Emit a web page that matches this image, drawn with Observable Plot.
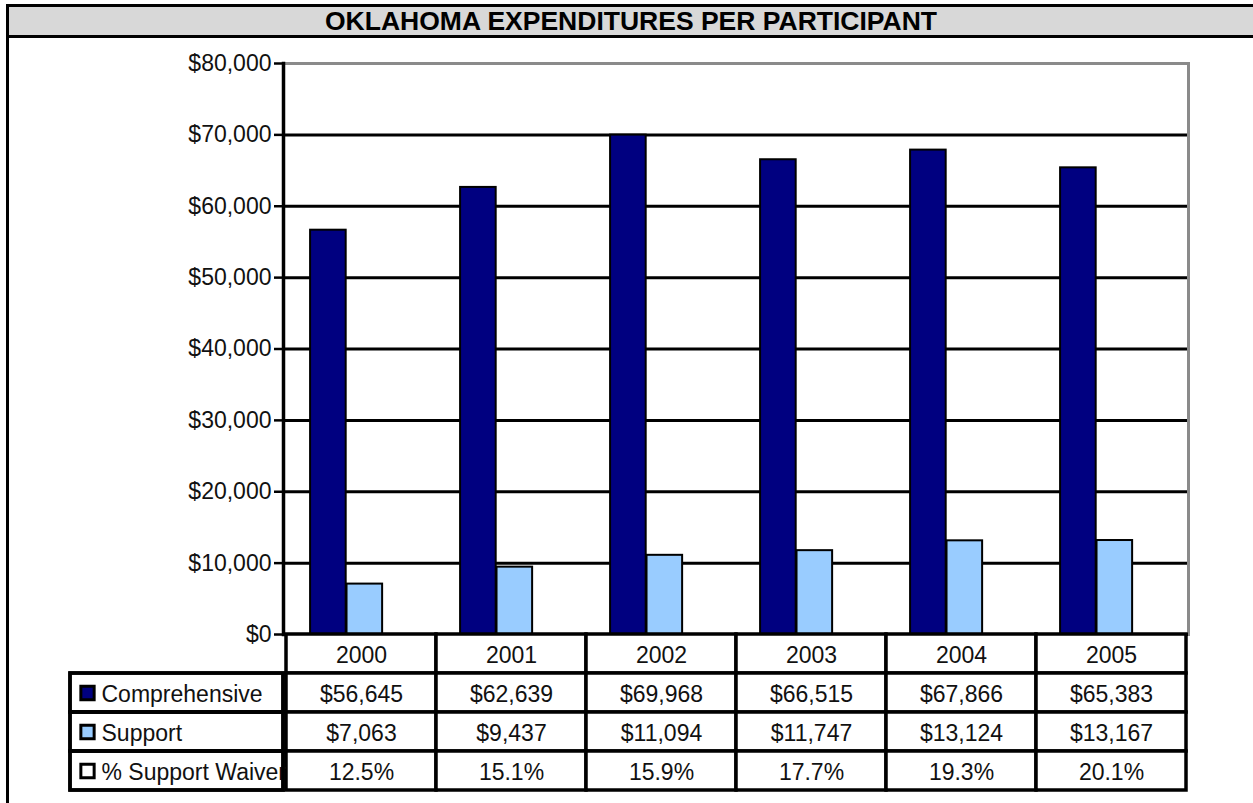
<!DOCTYPE html>
<html>
<head>
<meta charset="utf-8">
<script src="https://cdn.jsdelivr.net/npm/d3@7"></script>
<script src="https://cdn.jsdelivr.net/npm/@observablehq/plot@0.6"></script>
<style>
  html, body { margin: 0; padding: 0; background: #fff; overflow: hidden; width: 1253px; height: 803px; }
  body { font-family: "Liberation Sans", Arial, sans-serif; position: relative; }
  #frame { position: absolute; left: 6px; top: 4px; width: 1250px; height: 830px; border: 3px solid #000; box-sizing: border-box; }
  #title { position: absolute; left: 9px; top: 7px; width: 1244px; height: 28px; background: #d8d8d8; border-bottom: 3px solid #000;
           font-weight: bold; font-size: 26.5px; text-align: center; line-height: 29px; color: #000; }
  #chart { position: absolute; left: 0; top: 38px; }
  #table { position: absolute; left: 0; top: 632px; }
</style>
</head>
<body>
<div id="frame"></div>
<div id="title">OKLAHOMA EXPENDITURES PER PARTICIPANT</div>
<div id="chart"></div>
<div id="table"></div>
<script>
// ---- data ----
const years = ["2000", "2001", "2002", "2003", "2004", "2005"];
const comprehensive = [56645, 62639, 69968, 66515, 67866, 65383];
const support = [7063, 9437, 11094, 11747, 13124, 13167];
const supportWaiverPct = [12.5, 15.1, 15.9, 17.7, 19.3, 20.1];
const seriesNames = ["Comprehensive", "Support", "% Support Waiver"];
const seriesColors = ["#000080", "#99ccff", "#ffffff"];
const yTicks = [0, 10000, 20000, 30000, 40000, 50000, 60000, 70000, 80000];

// ---- layout ----
const W = 1253, mL = 283, mR = 65;
const bw = (W - mL - mR) / years.length;
const inner = d3.scaleBand().domain(seriesNames).range([0, bw]).paddingInner(0).paddingOuter(0.57).align(0.58);
const insetsFor = s => ({insetLeft: inner(s), insetRight: bw - inner(s) - inner.bandwidth()});

const money = d3.format("$,");
const compData = years.map((y, i) => ({year: y, value: comprehensive[i]}));
const suppData = years.map((y, i) => ({year: y, value: support[i]}));

const font = "Liberation Sans, Arial, sans-serif";

const chart = Plot.plot({
  width: W, height: 598,
  marginLeft: mL, marginRight: mR, marginTop: 25, marginBottom: 2,
  style: {background: "transparent", fontFamily: font, overflow: "visible"},
  x: {type: "band", domain: years, paddingInner: 0, paddingOuter: 0, axis: null},
  y: {domain: [0, 80000], axis: null, label: null},
  marks: [
    Plot.ruleY(yTicks.filter(d => d > 0 && d < 80000), {stroke: "#000", strokeWidth: 3}),
    Plot.frame({stroke: "#8a8a8a", strokeWidth: 3}),
    Plot.barY(compData, {x: "year", y: "value", fill: seriesColors[0], stroke: "#000", strokeWidth: 2, ...insetsFor(seriesNames[0])}),
    Plot.barY(suppData, {x: "year", y: "value", fill: seriesColors[1], stroke: "#000", strokeWidth: 2, ...insetsFor(seriesNames[1])}),
    Plot.ruleY([0], {stroke: "#000", strokeWidth: 3}),
    Plot.frame({anchor: "left", stroke: "#000", strokeWidth: 3.5}),
    Plot.axisY(yTicks, {tickFormat: money, tickSize: 9, tickPadding: 3, strokeWidth: 2.5, fontSize: 23,
      fill: "#111", stroke: "#000", label: null})
  ]
});
document.getElementById("chart").appendChild(chart);

// ---- data table ----
const rows = ["year", ...seriesNames];
const cellTexts = [
  ...years.map(y => ({year: y, row: "year", text: y})),
  ...years.map((y, i) => ({year: y, row: seriesNames[0], text: money(comprehensive[i])})),
  ...years.map((y, i) => ({year: y, row: seriesNames[1], text: money(support[i])})),
  ...years.map((y, i) => ({year: y, row: seriesNames[2], text: supportWaiverPct[i].toFixed(1) + "%"}))
];
const labelRows = seriesNames.map((s, i) => ({row: s, text: s, color: seriesColors[i]}));
const labelLeft = 70;

const table = Plot.plot({
  width: W, height: 160,
  marginLeft: mL, marginRight: mR, marginTop: 2, marginBottom: 2,
  style: {background: "transparent", fontFamily: font, overflow: "visible"},
  x: {type: "band", domain: years, paddingInner: 0, paddingOuter: 0, axis: null},
  y: {type: "band", domain: rows, paddingInner: 0, paddingOuter: 0, axis: null},
  marks: [
    Plot.cell(cellTexts, {x: "year", y: "row", fill: "#fff", stroke: "#000", strokeWidth: 3.5}),
    Plot.cell(labelRows, {y: "row", fill: "#fff", stroke: "#000", strokeWidth: 3.5,
      insetLeft: -(mL - labelLeft), insetRight: W - mL - mR}),
    Plot.text(cellTexts, {x: "year", y: "row", text: "text", fontSize: 23, fill: "#111", dy: 2}),
    Plot.dot(labelRows, {y: "row", frameAnchor: "left", dx: -(mL - 87), symbol: "square", r: 7.5,
      fill: "color", stroke: "#000", strokeWidth: 3}),
    Plot.text(labelRows, {y: "row", text: "text", frameAnchor: "left", textAnchor: "start", dx: -(mL - 101),
      fontSize: 23, fill: "#111", dy: 2, letterSpacing: "1.2px", clip: false}),
    Plot.cell(labelRows, {y: "row", fill: "none", stroke: "#000", strokeWidth: 3.5,
      insetLeft: -(mL - labelLeft), insetRight: W - mL - mR})
  ]
});
document.getElementById("table").appendChild(table);
</script>
</body>
</html>
